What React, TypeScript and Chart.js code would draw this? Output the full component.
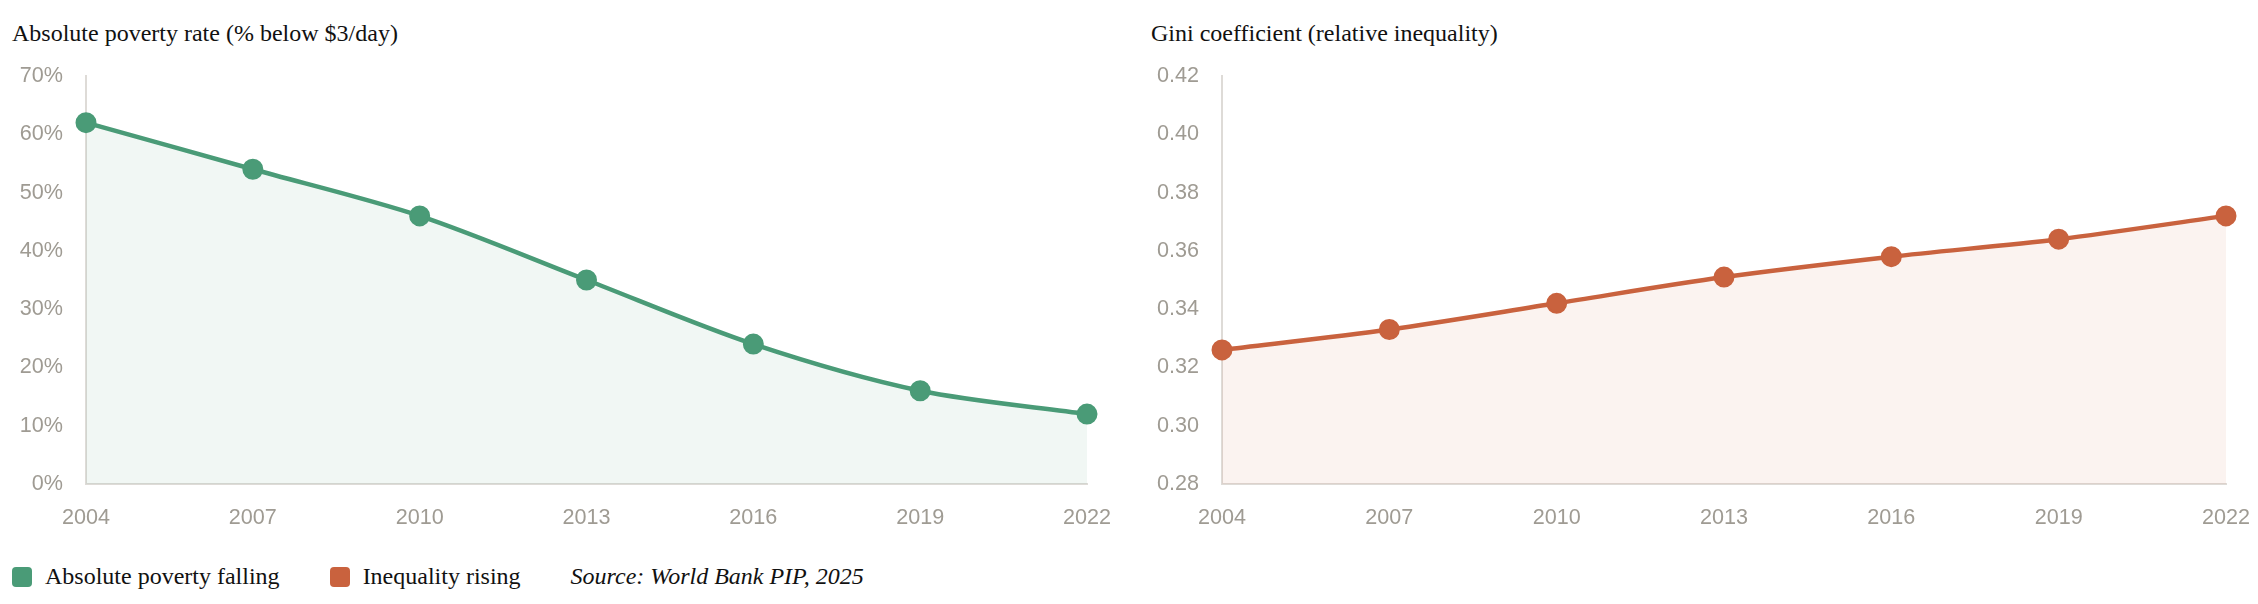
import { useEffect, useRef } from "react";
import Chart from "chart.js/auto";

const years = ["2004", "2007", "2010", "2013", "2016", "2019", "2022"];
const povertyRate = [62, 54, 46, 35, 24, 16, 12];
const giniValues = [0.326, 0.333, 0.342, 0.351, 0.358, 0.364, 0.372];

const GREEN = "#4a9b77";
const RED = "#c9623e";
const TICK = "#9f9b93";
const AXIS = "#dedbd7";
const TICK_FONT = { family: "'Liberation Sans', Arial, sans-serif", size: 21.6 };

function LineChart({
  data,
  color,
  fillColor,
  min,
  max,
  step,
  format,
  axisWidth,
}: {
  data: number[];
  color: string;
  fillColor: string;
  min: number;
  max: number;
  step: number;
  format: (v: number) => string;
  axisWidth: number;
}) {
  const chartRef = useRef<HTMLCanvasElement | null>(null);
  const chartInstanceRef = useRef<Chart | null>(null);

  useEffect(() => {
    if (!chartRef.current) return;
    const ctx = chartRef.current.getContext("2d");
    if (!ctx) return;

    chartInstanceRef.current?.destroy();
    chartInstanceRef.current = new Chart(ctx, {
      type: "line",
      data: {
        labels: years,
        datasets: [
          {
            data,
            borderColor: color,
            backgroundColor: fillColor,
            fill: "start",
            borderWidth: 4.5,
            tension: 0.3,
            pointRadius: 9.5,
            pointBorderWidth: 2,
            pointBackgroundColor: color,
            pointBorderColor: color,
          },
        ],
      },
      options: {
        animation: false,
        responsive: true,
        maintainAspectRatio: false,
        layout: { autoPadding: false, padding: 0 },
        plugins: {
          legend: { display: false },
          tooltip: { enabled: false },
        },
        scales: {
          x: {
            offset: false,
            grid: { display: false, drawTicks: false },
            border: { display: true, color: AXIS, width: 2 },
            ticks: {
              color: TICK,
              font: TICK_FONT,
              padding: 21,
              maxRotation: 0,
              autoSkip: false,
            },
            afterFit: (scale) => {
              scale.height = 47;
              scale.paddingLeft = 0;
              scale.paddingRight = 24;
            },
          },
          y: {
            min,
            max,
            grid: { display: false, drawTicks: false },
            border: { display: true, color: AXIS, width: 2 },
            ticks: {
              stepSize: step,
              color: TICK,
              font: TICK_FONT,
              padding: 23,
              callback: (v) => format(Number(v)),
            },
            afterFit: (scale) => {
              scale.width = axisWidth;
              scale.paddingTop = 13;
              scale.paddingBottom = 0;
            },
          },
        },
      },
    });

    return () => {
      chartInstanceRef.current?.destroy();
      chartInstanceRef.current = null;
    };
  }, [data, color, fillColor, min, max, step, format, axisWidth]);

  return (
    <div style={{ position: "relative", height: 468 }}>
      <canvas ref={chartRef} />
    </div>
  );
}

const titleStyle: React.CSSProperties = {
  fontFamily: "'Liberation Serif', 'Times New Roman', serif",
  fontSize: 24,
  color: "#111",
  lineHeight: "27px",
  height: 27,
  marginBottom: 16,
};

const legendText: React.CSSProperties = {
  fontFamily: "'Liberation Serif', 'Times New Roman', serif",
  fontSize: 24,
  color: "#111",
};

function Swatch({ color }: { color: string }) {
  return (
    <span
      style={{
        display: "inline-block",
        width: 20,
        height: 20,
        borderRadius: 4,
        background: color,
        marginRight: 13,
      }}
    />
  );
}

const fmtPct = (v: number) => `${v}%`;
const fmtGini = (v: number) => v.toFixed(2);

export default function App() {
  return (
    <div style={{ paddingLeft: 4, paddingTop: 12, width: 2238 }}>
      <div style={{ display: "flex", gap: 40 }}>
        <div style={{ width: 1099 }}>
          <div style={titleStyle}>Absolute poverty rate (% below $3/day)</div>
          <LineChart
            data={povertyRate}
            color={GREEN}
            fillColor="rgba(74,155,119,0.08)"
            min={0}
            max={70}
            step={10}
            format={fmtPct}
            axisWidth={74}
          />
        </div>
        <div style={{ width: 1099 }}>
          <div style={titleStyle}>Gini coefficient (relative inequality)</div>
          <LineChart
            data={giniValues}
            color={RED}
            fillColor="rgba(201,98,62,0.08)"
            min={0.28}
            max={0.42}
            step={0.02}
            format={fmtGini}
            axisWidth={71}
          />
        </div>
      </div>
      <div
        style={{
          display: "flex",
          alignItems: "center",
          marginTop: 32,
          ...legendText,
        }}
      >
        <Swatch color={GREEN} />
        <span style={{ marginRight: 50 }}>Absolute poverty falling</span>
        <Swatch color={RED} />
        <span style={{ marginRight: 50 }}>Inequality rising</span>
        <span style={{ fontStyle: "italic" }}>Source: World Bank PIP, 2025</span>
      </div>
    </div>
  );
}
